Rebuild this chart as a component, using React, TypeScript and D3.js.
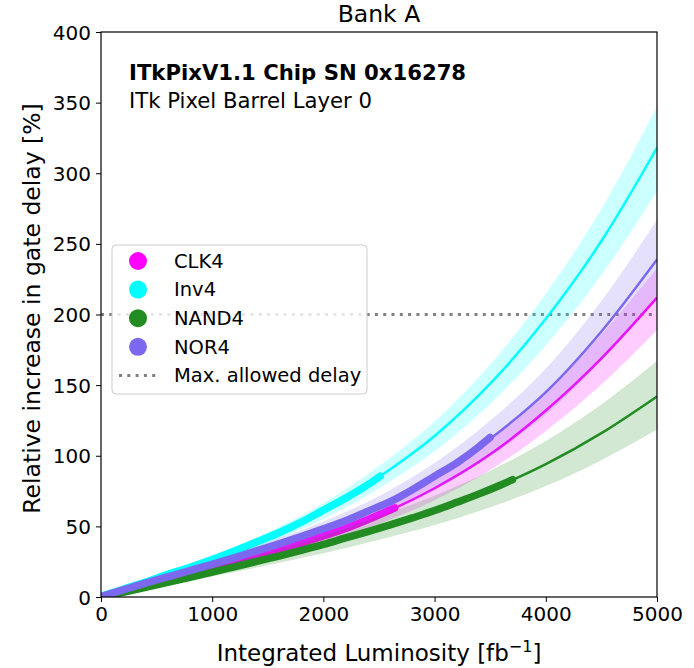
import * as d3 from "d3";
import { useEffect, useRef } from "react";

// luminosity grid for the fitted curves and their uncertainty bands
const FIT_LUMI = [0, 500, 1000, 1500, 2000, 2500, 3000, 3500, 4000, 4500, 5000];

const CLK4_FIT = [0, 11, 21.5, 31.5, 43, 58, 77, 101, 132, 169, 212];
const CLK4_LOW = [0, 9.8, 19.1, 28, 38.3, 51.6, 68.5, 89.9, 117.5, 150.4, 189];
const CLK4_HIGH = [0, 12.1, 23.7, 34.7, 47.3, 63.8, 84.7, 111.1, 145.2, 185.9, 233];

const INV4_FIT = [0, 13, 26.5, 42, 61, 85, 114, 151, 197, 252, 318];
const INV4_LOW = [0, 11.8, 24, 38, 55.2, 76.9, 103.2, 136.7, 178.3, 228, 287];
const INV4_HIGH = [0, 14.2, 28.9, 45.8, 66.5, 92.7, 124.3, 164.6, 214.7, 274.7, 347];

const NAND4_FIT = [0, 8.5, 17.5, 27, 37, 48.5, 61, 76, 94, 116, 142];
const NAND4_LOW = [0, 7.1, 14.6, 22.5, 30.9, 40.5, 50.9, 63.5, 78.5, 96.9, 118.5];
const NAND4_HIGH = [0, 10, 20.6, 31.7, 43.5, 57, 71.7, 89.3, 110.5, 136.3, 167];

const NOR4_FIT = [0, 12, 23, 35, 48, 64, 85, 112, 145, 188, 239];
const NOR4_LOW = [0, 10.7, 20.5, 31.2, 42.7, 57, 75.7, 99.7, 129, 167.3, 213];
const NOR4_HIGH = [0, 13.4, 25.6, 39, 53.5, 71.4, 94.8, 124.9, 161.7, 209.6, 267];

// measured points [luminosity, delay increase %]
const CLK4_DATA: [number, number][] = [
  [0, 0.2], [200, 4.5], [400, 9], [600, 13], [800, 17.4], [1000, 21.5], [1200, 25.5],
  [1400, 29.5], [1600, 33.7], [1800, 38.2], [2000, 43.2], [2200, 48.5], [2400, 54.8], [2640, 63],
];
const INV4_DATA: [number, number][] = [
  [0, 0.5], [200, 5.5], [400, 10.5], [600, 16], [800, 21], [1000, 26.5], [1200, 32.5],
  [1400, 39], [1600, 45.5], [1800, 53], [2000, 61.5], [2200, 70], [2400, 79.5], [2510, 85.5],
];
const NAND4_DATA: [number, number][] = [
  [0, 0], [200, 3.3], [400, 6.8], [600, 10.3], [800, 13.9], [1000, 17.6], [1200, 21.4],
  [1400, 25.2], [1600, 29], [1800, 33], [2000, 37.2], [2200, 41.8], [2400, 46.3], [2600, 51],
  [2800, 56], [3000, 61.2], [3200, 67], [3400, 73], [3600, 79.5], [3700, 83],
];
const NOR4_DATA: [number, number][] = [
  [0, 0.3], [200, 5], [400, 9.8], [600, 14.2], [800, 18.6], [1000, 23.2], [1200, 27.8],
  [1400, 32.6], [1600, 37.6], [1800, 42.8], [2000, 48.3], [2200, 54], [2400, 60.8],
  [2600, 67.5], [2800, 76], [3000, 85.5], [3200, 95], [3400, 106.5], [3500, 113],
];

const X_TICKS = [0, 1000, 2000, 3000, 4000, 5000];
const Y_TICKS = [0, 50, 100, 150, 200, 250, 300, 350, 400];
const MAX_DELAY = 200;

interface SeriesConfig {
  label: string;
  color: string;
  fit: number[];
  low: number[];
  high: number[];
  data: [number, number][];
}

const SERIES: SeriesConfig[] = [
  { label: "CLK4", color: "#ff00ff", fit: CLK4_FIT, low: CLK4_LOW, high: CLK4_HIGH, data: CLK4_DATA },
  { label: "Inv4", color: "#00ffff", fit: INV4_FIT, low: INV4_LOW, high: INV4_HIGH, data: INV4_DATA },
  { label: "NAND4", color: "#228b22", fit: NAND4_FIT, low: NAND4_LOW, high: NAND4_HIGH, data: NAND4_DATA },
  { label: "NOR4", color: "#7b68ee", fit: NOR4_FIT, low: NOR4_LOW, high: NOR4_HIGH, data: NOR4_DATA },
];

const FONT = "DejaVu Sans, sans-serif";

export default function App() {
  const svgRef = useRef<SVGSVGElement>(null);
  const width = 694;
  const height = 668;

  useEffect(() => {
    document.body.style.margin = "0";
    if (!svgRef.current) return;

    const svg = d3.select(svgRef.current);
    svg.selectAll("*").remove();

    const margin = { top: 32, right: 37, bottom: 71, left: 101 };
    const innerWidth = width - margin.left - margin.right;
    const innerHeight = height - margin.top - margin.bottom;

    const x = d3.scaleLinear().domain([0, 5000]).range([0, innerWidth]);
    const y = d3.scaleLinear().domain([0, 400]).range([innerHeight, 0]);

    svg.append("rect").attr("width", width).attr("height", height).attr("fill", "white");

    const g = svg.append("g").attr("transform", `translate(${margin.left},${margin.top})`);

    g.append("clipPath")
      .attr("id", "plot-clip")
      .append("rect")
      .attr("width", innerWidth)
      .attr("height", innerHeight);

    const plot = g.append("g").attr("clip-path", "url(#plot-clip)");

    // Max allowed delay line
    plot
      .append("line")
      .attr("x1", 0)
      .attr("x2", innerWidth)
      .attr("y1", y(MAX_DELAY))
      .attr("y2", y(MAX_DELAY))
      .style("stroke", "#808080")
      .style("stroke-width", 3)
      .style("stroke-dasharray", "3,5.3");

    const area = d3
      .area<number>()
      .x((_, i) => x(FIT_LUMI[i]))
      .curve(d3.curveMonotoneX);

    const fitLine = d3
      .line<number>()
      .x((_, i) => x(FIT_LUMI[i]))
      .y((d) => y(d))
      .curve(d3.curveMonotoneX);

    const dataLine = d3
      .line<[number, number]>()
      .x((d) => x(d[0]))
      .y((d) => y(d[1]))
      .curve(d3.curveMonotoneX);

    for (const s of SERIES) {
      plot
        .append("path")
        .datum(s.fit)
        .attr(
          "d",
          area.y0((_, i) => y(s.low[i])).y1((_, i) => y(s.high[i])),
        )
        .style("fill", s.color)
        .style("fill-opacity", 0.2)
        .style("stroke", "none");

      plot
        .append("path")
        .datum(s.fit)
        .attr("d", fitLine)
        .style("fill", "none")
        .style("stroke", s.color)
        .style("stroke-width", 2.5);

      plot
        .append("path")
        .datum(s.data)
        .attr("d", dataLine)
        .style("fill", "none")
        .style("stroke", s.color)
        .style("stroke-width", 7.5)
        .style("stroke-linecap", "round")
        .style("stroke-linejoin", "round");
    }

    // Axes
    const xAxis = g
      .append("g")
      .attr("transform", `translate(0,${innerHeight})`)
      .call(d3.axisBottom(x).tickValues(X_TICKS).tickSize(5).tickPadding(5).tickFormat(d3.format("d")));
    const yAxis = g
      .append("g")
      .call(d3.axisLeft(y).tickValues(Y_TICKS).tickSize(5).tickPadding(5).tickFormat(d3.format("d")));
    for (const ax of [xAxis, yAxis]) {
      ax.select(".domain").remove();
      ax.selectAll(".tick line").style("stroke", "black").style("stroke-width", 1);
      ax.selectAll("text")
        .style("font-family", FONT)
        .style("font-size", "20px")
        .style("fill", "black");
    }
    yAxis.selectAll("text").attr("dy", "0.35em");

    // Frame
    g.append("rect")
      .attr("width", innerWidth)
      .attr("height", innerHeight)
      .style("fill", "none")
      .style("stroke", "black")
      .style("stroke-width", 1.2);

    // Title and labels
    svg
      .append("text")
      .attr("x", margin.left + innerWidth / 2)
      .attr("y", 22)
      .attr("text-anchor", "middle")
      .style("font-family", FONT)
      .style("font-size", "23.5px")
      .text("Bank A");

    const xLabel = svg
      .append("text")
      .attr("x", margin.left + innerWidth / 2)
      .attr("y", 661)
      .attr("text-anchor", "middle")
      .style("font-family", FONT)
      .style("font-size", "23px")
      .text("Integrated Luminosity [fb");
    xLabel.append("tspan").attr("dy", -9).style("font-size", "16px").text("\u22121");
    xLabel.append("tspan").attr("dy", 9).text("]");

    svg
      .append("text")
      .attr("transform", `translate(40,${margin.top + innerHeight / 2 - 6}) rotate(-90)`)
      .attr("text-anchor", "middle")
      .style("font-family", FONT)
      .style("font-size", "23.5px")
      .text("Relative increase in gate delay [%]");

    // Annotation
    g.append("text")
      .attr("x", 28)
      .attr("y", 48)
      .style("font-family", FONT)
      .style("font-size", "21.2px")
      .style("font-weight", "bold")
      .text("ITkPixV1.1 Chip SN 0x16278");
    g.append("text")
      .attr("x", 28)
      .attr("y", 76)
      .style("font-family", FONT)
      .style("font-size", "21.2px")
      .text("ITk Pixel Barrel Layer 0");

    // Legend
    const legend = g.append("g").attr("transform", "translate(11,213)");
    legend
      .append("rect")
      .attr("width", 255)
      .attr("height", 149)
      .attr("rx", 4)
      .style("fill", "white")
      .style("fill-opacity", 0.8)
      .style("stroke", "#cccccc")
      .style("stroke-width", 1);

    const rowY = (i: number) => 16 + i * 28.6;
    SERIES.forEach((s, i) => {
      legend
        .append("circle")
        .attr("cx", 26)
        .attr("cy", rowY(i))
        .attr("r", 9)
        .style("fill", s.color);
      legend
        .append("text")
        .attr("x", 62)
        .attr("y", rowY(i))
        .attr("dy", "0.35em")
        .style("font-family", FONT)
        .style("font-size", "19.5px")
        .text(s.label);
    });
    legend
      .append("line")
      .attr("x1", 7)
      .attr("x2", 46)
      .attr("y1", rowY(4))
      .attr("y2", rowY(4))
      .style("stroke", "#808080")
      .style("stroke-width", 3)
      .style("stroke-dasharray", "3,5.3");
    legend
      .append("text")
      .attr("x", 62)
      .attr("y", rowY(4))
      .attr("dy", "0.35em")
      .style("font-family", FONT)
      .style("font-size", "19.5px")
      .text("Max. allowed delay");
  }, []);

  return <svg ref={svgRef} width={width} height={height} style={{ display: "block" }} />;
}
